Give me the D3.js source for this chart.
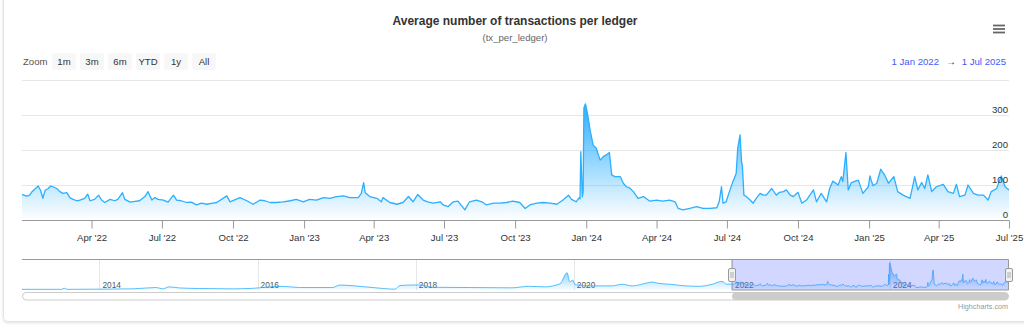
<!DOCTYPE html>
<html><head><meta charset="utf-8">
<script src="https://cdn.jsdelivr.net/npm/d3@7"></script>
<style>
html,body{margin:0;padding:0;background:#fff;}
svg{display:block;font-family:"Liberation Sans",Arial,Helvetica,sans-serif;}
</style></head><body>
<svg id="chart" width="1024" height="328"></svg>
<script>
// ---------------- DATA ----------------
const chartTitle = "Average number of transactions per ledger";
const chartSubtitle = "(tx_per_ledger)";
const zoomLabel = "Zoom";
const zoomButtons = ["1m","3m","6m","YTD","1y","All"];
const rangeFrom = "1 Jan 2022";
const rangeTo = "1 Jul 2025";
const creditText = "Highcharts.com";

// daily series (days since startDate) shown in the main panel
const startDate = "2022-01-01";
const endDate = "2025-07-01";
const dayOffsets = [
  0,6,10,13,21,24,27,30,34,37,40,45,49,53,58,62,66,71,75,81,85,88,94,99,103,107,114,120,124,130,
  133,140,146,152,159,163,168,172,176,183,189,196,200,206,213,219,226,232,239,247,
  252,265,269,282,291,299,308,314,321,329,338,347,355,364,372,381,390,398,407,416,
  424,435,439,442,444,450,459,465,467,476,485,493,500,
  506,512,519,525,532,541,545,551,558,564,573,579,588,595,601,610,618,627,635,644,
  651,657,666,674,683,692,700,707,711,717,721,722,723,725,726,727,729,732,735,739,
  743,748,752,756,760,763,
  767,774,778,782,786,791,797,804,812,821,829,838,845,849,855,864,873,881,890,899,
  902,905,907,911,916,920,924,926,929,931,932,934,937,942,946,950,955,959,963,970,
  976,980,985,989,
  994,998,1004,1009,1015,1024,1028,1034,1041,1045,1049,1056,1060,1062,1066,1069,1073,1082,1088,1095,
  1097,1101,1106,1111,1116,1121,1128,1133,1140,1149,1155,1159,1164,1168,1172,1177,1183,1192,1198,1205,
  1209,1213,1220,1224,1231,1237,1244,1250,1254,1261,1267,1272,1277
];
const values = [
  73,68,71,81,97,85,62,85,90,97,95,90,81,76,78,64,59,55,57,62,74,55,59,71,57,50,59,55,59,78,
  59,51,53,55,67,81,57,64,59,57,51,71,57,55,50,51,43,48,45,48,
  50,69,52,64,55,45,57,55,50,50,52,55,59,52,59,57,64,62,67,69,
  64,64,76,107,78,67,62,52,64,50,45,50,67,
  52,73,57,52,48,52,43,38,52,54,29,52,57,52,43,48,48,50,54,50,
  33,43,48,50,48,45,57,71,59,52,64,60,195,66,80,320,332,300,257,214,
  205,171,181,186,193,129,
  124,124,105,95,92,81,62,67,54,57,54,57,52,33,29,33,38,33,33,35,
  52,95,48,52,86,111,133,205,243,165,157,71,67,57,48,62,76,71,71,90,
  71,79,81,86,
  71,67,79,48,57,86,52,76,52,90,111,100,124,110,193,86,107,114,76,95,
  126,98,105,145,129,105,124,81,71,62,124,86,107,90,129,81,95,102,81,76,
  102,67,71,100,76,71,71,57,81,90,126,95,86
];

// earlier history, visible only in the navigator
const historyDates = [
  "2013-01-08","2013-07-10","2013-07-22","2013-08-05","2014-01-01","2014-06-02","2014-09-21","2014-10-19",
  "2014-11-20","2015-01-05","2015-04-07","2015-09-07","2015-12-08","2016-02-13","2016-04-23","2016-07-13",
  "2016-12-12","2017-01-15","2017-06-03","2017-09-27","2017-10-20","2018-01-19","2018-03-20","2018-09-07",
  "2019-03-21","2019-06-07","2019-08-20","2019-10-29","2019-12-01","2019-12-13","2019-12-27","2020-01-07",
  "2020-03-25","2020-06-27","2020-08-11","2020-09-27","2020-11-25","2020-12-27","2021-01-29","2021-03-29",
  "2021-05-29","2021-08-03","2021-10-01","2021-11-15","2021-12-09"
];
const historyValues = [
  8,8,21,8,10,14,30,14,
  38,25,18,14,20,35,45,30,
  30,60,33,10,55,62,33,30,
  26,45,38,75,210,100,120,65,
  50,50,70,50,80,97,80,68,
  50,45,70,105,70
];

const xTickDates = ["2022-04-01","2022-07-01","2022-10-01","2023-01-01","2023-04-01","2023-07-01","2023-10-01",
  "2024-01-01","2024-04-01","2024-07-01","2024-10-01","2025-01-01","2025-04-01","2025-07-01"];
const yTicks = [0,100,200,300,400];
const yTickLabels = ["0","100","200","300"];
const navTickYears = ["2014","2016","2018","2020","2022","2024"];

// ---------------- DRAW ----------------
const parse = d3.utcParse("%Y-%m-%d");
const t0 = parse(startDate);
const series = dayOffsets.map((d,i)=>({date:d3.utcDay.offset(t0,d), value:values[i]}));
const history = historyDates.map((d,i)=>({date:parse(d), value:historyValues[i]}));
const navData = history.concat(series);

const svg = d3.select("#chart");
const color = "#2caffe";
const font = "'Liberation Sans',Arial,Helvetica,sans-serif";

// card
const defs = svg.append("defs");
const f = defs.append("filter").attr("id","sh").attr("x","-5%").attr("y","-5%").attr("width","110%").attr("height","115%");
f.append("feDropShadow").attr("dx",0).attr("dy",1).attr("stdDeviation",1.5).attr("flood-color","#000").attr("flood-opacity",0.12);
svg.append("rect").attr("x",3.5).attr("y",-20).attr("width",1040).attr("height",341.5).attr("rx",4)
  .attr("fill","#fff").attr("stroke","#e3e3e3").attr("filter","url(#sh)");

// title
svg.append("text").attr("x",515).attr("y",25).attr("text-anchor","middle")
  .attr("font-size",12).attr("font-weight","bold").attr("fill","#333").text(chartTitle);
svg.append("text").attr("x",515).attr("y",40.5).attr("text-anchor","middle")
  .attr("font-size",9.6).attr("fill","#666").text(chartSubtitle);

// hamburger
[25.5,29,32.5].forEach(y=>svg.append("line").attr("x1",993).attr("x2",1005).attr("y1",y).attr("y2",y)
  .attr("stroke","#666").attr("stroke-width",1.8));

// range selector
svg.append("text").attr("x",23).attr("y",65).attr("font-size",9.6).attr("fill","#555").text(zoomLabel);
const btn = svg.append("g").selectAll("g").data(zoomButtons).join("g")
  .attr("transform",(d,i)=>`translate(${52+i*28},53)`);
btn.append("rect").attr("width",24).attr("height",17).attr("rx",2).attr("fill","#f7f7f7");
btn.append("text").attr("x",12).attr("y",12).attr("text-anchor","middle").attr("font-size",9.6).attr("fill","#333").text(d=>d);

svg.append("text").attr("x",1006).attr("y",65).attr("text-anchor","end").attr("font-size",9.6).attr("fill","#3d5cf5").text(rangeTo);
svg.append("text").attr("x",951).attr("y",65).attr("text-anchor","middle").attr("font-size",9.6).attr("fill","#333").text("\u2192");
svg.append("text").attr("x",939).attr("y",65).attr("text-anchor","end").attr("font-size",9.6).attr("fill","#3d5cf5").text(rangeFrom);

// main scales
const x = d3.scaleUtc().domain([parse(startDate), parse(endDate)]).range([22,1009]);
const y = d3.scaleLinear().domain([0,400]).range([220,80]);

// grid
svg.append("g").selectAll("line").data(yTicks).join("line")
  .attr("x1",22).attr("x2",1009).attr("y1",d=>y(d)+0.5).attr("y2",d=>y(d)+0.5)
  .attr("stroke","#e6e6e6").attr("stroke-width",1);

// gradient
const maxV = d3.max(values);
const g1 = defs.append("linearGradient").attr("id","gMain").attr("gradientUnits","userSpaceOnUse")
  .attr("x1",0).attr("x2",0).attr("y1",y(maxV)).attr("y2",y(0));
g1.append("stop").attr("offset",0).attr("stop-color",color).attr("stop-opacity",1);
g1.append("stop").attr("offset",1).attr("stop-color",color).attr("stop-opacity",0);

svg.append("path").datum(series)
  .attr("d",d3.area().x(d=>x(d.date)).y0(y(0)).y1(d=>y(d.value)))
  .attr("fill","url(#gMain)");
svg.append("path").datum(series)
  .attr("d",d3.line().x(d=>x(d.date)).y(d=>y(d.value)))
  .attr("fill","none").attr("stroke",color).attr("stroke-width",1.3).attr("stroke-linejoin","round");

// y labels
svg.append("g").selectAll("text").data(yTickLabels).join("text")
  .attr("x",1008).attr("y",d=>y(+d)-2).attr("text-anchor","end").attr("font-size",9.6).attr("fill","#333").text(d=>d);

// x axis
const xAxis = d3.axisBottom(x).tickValues(xTickDates.map(parse))
  .tickFormat(d3.utcFormat("%b '%y")).tickSize(8).tickSizeOuter(0).tickPadding(6);
const ax = svg.append("g").attr("transform","translate(0,220.5)").call(xAxis);
ax.select(".domain").attr("stroke","#999").attr("d","M22,0H1009");
ax.selectAll(".tick line").attr("stroke","#999");
ax.selectAll(".tick text").attr("font-size",9.6).attr("fill","#333").attr("font-family",font);

// ---------------- NAVIGATOR ----------------
const navTop = 260, navH = 30;
const nx = d3.scaleUtc().domain([navData[0].date, parse(endDate)]).range([22,1008.5]);
const navMax = d3.max(navData,d=>d.value);
const ny = d3.scaleLinear().domain([0, navMax*1.1]).range([navTop+navH, navTop]);

svg.append("g").selectAll("line").data(navTickYears).join("line")
  .attr("x1",d=>Math.round(nx(parse(d+"-01-01")))+0.5).attr("x2",d=>Math.round(nx(parse(d+"-01-01")))+0.5)
  .attr("y1",navTop).attr("y2",navTop+navH).attr("stroke","#e6e6e6");
svg.append("g").selectAll("text").data(navTickYears).join("text")
  .attr("x",d=>nx(parse(d+"-01-01"))+3).attr("y",navTop+27.5).attr("font-size",8.3).attr("fill","#555").text(d=>d);

const g2 = defs.append("linearGradient").attr("id","gNav").attr("gradientUnits","userSpaceOnUse")
  .attr("x1",0).attr("x2",0).attr("y1",ny(navMax)).attr("y2",ny(0));
g2.append("stop").attr("offset",0).attr("stop-color",color).attr("stop-opacity",0.8);
g2.append("stop").attr("offset",1).attr("stop-color",color).attr("stop-opacity",0.03);
svg.append("path").datum(navData)
  .attr("d",d3.area().curve(d3.curveMonotoneX).x(d=>nx(d.date)).y0(ny(0)).y1(d=>ny(d.value)))
  .attr("fill","url(#gNav)");
svg.append("path").datum(navData)
  .attr("d",d3.line().curve(d3.curveMonotoneX).x(d=>nx(d.date)).y(d=>ny(d.value)))
  .attr("fill","none").attr("stroke",color).attr("stroke-width",1).attr("stroke-opacity",0.8);

const selA = nx(parse(startDate)), selB = nx(parse(endDate));
svg.append("rect").attr("x",selA).attr("y",navTop).attr("width",selB-selA).attr("height",navH)
  .attr("fill","#667aff").attr("fill-opacity",0.3);
svg.append("path")
  .attr("d",`M22,${navTop-0.5}H${selB}M${selA},${navTop-0.5}V${navTop+navH}H${selB}V${navTop-0.5}`)
  .attr("fill","none").attr("stroke","#999").attr("stroke-width",1);

// handles
[selA, selB].forEach(hx=>{
  const hg = svg.append("g").attr("transform",`translate(${Math.round(hx)},${navTop+navH/2})`);
  hg.append("rect").attr("x",-3.5).attr("y",-6.5).attr("width",7).attr("height",13).attr("rx",1.5)
    .attr("fill","#f2f2f2").attr("stroke","#999");
  hg.append("path").attr("d","M-1,-3V3M1,-3V3").attr("stroke","#999").attr("stroke-width",0.8);
});

// scrollbar
svg.append("rect").attr("x",22.5).attr("y",292.5).attr("width",986).attr("height",7.5).attr("rx",3.75)
  .attr("fill","#fff").attr("stroke","#ccc");
svg.append("rect").attr("x",selA).attr("y",292.5).attr("width",selB-selA).attr("height",7.5).attr("rx",3.75)
  .attr("fill","#ccc");

// credits
svg.append("text").attr("x",1008).attr("y",309).attr("text-anchor","end").attr("font-size",7.2).attr("fill","#999").text(creditText);
</script>
</body></html>
